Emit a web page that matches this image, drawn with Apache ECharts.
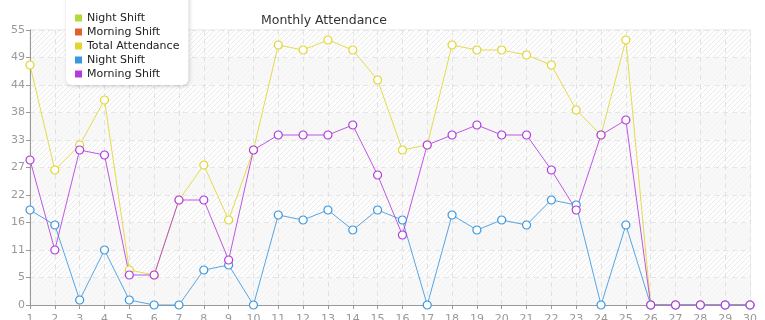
<!DOCTYPE html>
<html>
<head>
<meta charset="utf-8">
<script src="https://cdn.jsdelivr.net/npm/echarts@6/dist/echarts.min.js"></script>
<style>html,body{margin:0;padding:0;background:#fff}#c{width:765px;height:320px}</style>
</head>
<body>
<div id="c"></div>
<script>
const days = ['1','2','3','4','5','6','7','8','9','10','11','12','13','14','15','16','17','18','19','20','21','22','23','24','25','26','27','28','29','30'];
const seriesNames = ['Night Shift', 'Morning Shift', 'Total Attendance', 'Night Shift\u200b', 'Morning Shift\u200b'];
const seriesColors = ['#b0da38', '#e0622a', '#e2d530', '#3a97e0', '#b43ae0'];
const nightShiftA = [];
const morningShiftA = [];
const totalAttendance = [48,27,32,41,7,6,21,28,17,31,52,51,53,51,45,31,32,52,51,51,50,48,39,34,53,0,0,0,0,0];
const nightShift = [19,16,1,11,1,0,0,7,8,0,18,17,19,15,19,17,0,18,15,17,16,21,20,0,16,0,0,0,0,0];
const morningShift = [29,11,31,30,6,6,21,21,9,31,34,34,34,36,26,14,32,34,36,34,34,27,19,34,37,0,0,0,0,0];
const yTickLabels = ['0','5','11','16','22','27','33','38','44','49','55'];

function hatch(bg, line) {
  const s = 5;
  const c = document.createElement('canvas');
  c.width = s; c.height = s;
  const g = c.getContext('2d');
  g.fillStyle = bg; g.fillRect(0, 0, s, s);
  g.strokeStyle = line; g.lineWidth = 1;
  g.beginPath();
  g.moveTo(0, s); g.lineTo(s, 0);
  g.moveTo(-s, s); g.lineTo(s, -s);
  g.moveTo(0, 2 * s); g.lineTo(2 * s, 0);
  g.stroke();
  return { image: c, repetition: 'repeat' };
}

const allData = [nightShiftA, morningShiftA, totalAttendance, nightShift, morningShift];
const chart = echarts.init(document.getElementById('c'), null, { renderer: 'canvas' });
const font = '"DejaVu Sans", Verdana, sans-serif';
chart.setOption({
  animation: false,
  backgroundColor: '#ffffff',
  title: {
    text: 'Monthly Attendance',
    left: 256, top: 9,
    textStyle: { fontFamily: font, fontSize: 12.5, fontWeight: 'normal', color: '#333' }
  },
  legend: {
    orient: 'vertical',
    left: 66, top: -12,
    padding: [23, 9, 4, 9],
    data: seriesNames.map((n, i) => ({ name: n, itemStyle: { color: seriesColors[i], borderWidth: 0 } })),
    itemWidth: 7, itemHeight: 7, itemGap: 0,
    icon: 'rect',
    backgroundColor: '#ffffff',
    borderRadius: 6,
    shadowBlur: 4, shadowColor: 'rgba(0,0,0,0.18)', shadowOffsetX: 1, shadowOffsetY: 1,
    textStyle: { fontFamily: font, fontSize: 11, color: '#222', lineHeight: 14, height: 14, padding: [0, 0, 0, 0] },
    z: 10
  },
  grid: { left: 30, right: 15, top: 30, bottom: 15, outerBoundsMode: 'none', containLabel: false,
    show: true, borderColor: '#e2e2e2', borderWidth: 1 },
  xAxis: {
    type: 'category', data: days, boundaryGap: false,
    axisLine: { lineStyle: { color: '#999' } },
    axisTick: { show: true, length: 4, lineStyle: { color: '#999' } },
    axisLabel: { fontFamily: font, fontSize: 11, color: '#999', margin: 9 },
    splitLine: { show: true, lineStyle: { color: '#e2e2e2', type: [5, 4] } }
  },
  yAxis: {
    type: 'value', min: 0, max: 55, interval: 5.5,
    axisLine: { show: true, lineStyle: { color: '#999' } },
    axisTick: { show: true, length: 4, lineStyle: { color: '#999' } },
    axisLabel: { fontFamily: font, fontSize: 11, color: '#999', margin: 5,
      formatter: v => yTickLabels[Math.round(v / 5.5)] },
    splitLine: { show: true, lineStyle: { color: '#e6e6e6', type: [5, 4] } },
    splitArea: { show: true, areaStyle: { color: [hatch('#f8f8f8', '#f3f3f3'), hatch('#fdfdfd', '#ececec')] } }
  },
  series: seriesNames.map((n, i) => ({
    name: n, type: 'line', data: allData[i],
    color: seriesColors[i],
    symbol: 'circle', symbolSize: 8,
    itemStyle: { color: '#fff', borderColor: seriesColors[i], borderWidth: 1.2 },
    lineStyle: { width: 1, color: seriesColors[i], opacity: 0.85 },
    emphasis: { disabled: true }
  }))
});
</script>
</body>
</html>
